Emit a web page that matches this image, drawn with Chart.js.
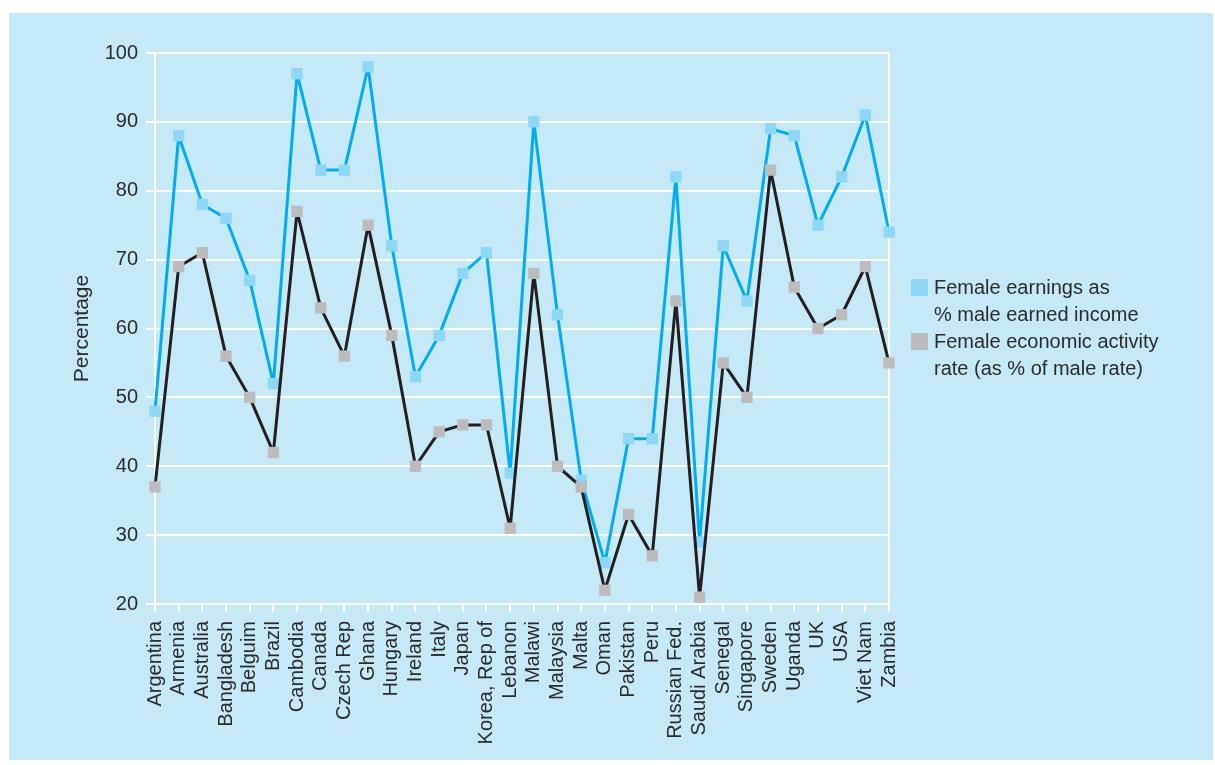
<!DOCTYPE html>
<html>
<head>
<meta charset="utf-8">
<script src="https://cdn.jsdelivr.net/npm/chart.js@4"></script>
<style>
  body { margin: 0; background: #fff; }
  #panel { position: absolute; left: 9px; top: 13px; width: 1204px; height: 747px; background: #c6e9f8; }
  #panel canvas { position: absolute; left: 0; top: 0; }
  #legend-div { position: absolute; left: 902px; top: 261px; font-family: "Liberation Sans", Arial, sans-serif; font-size: 20px; color: #2b2b2b; line-height: 27px; }
  #legend-div ul { list-style: none; margin: 0; padding: 0; }
  #legend-div li { position: relative; padding-left: 23px; }
  #legend-div li span { position: absolute; left: 0; top: 5px; width: 17px; height: 17px; }
</style>
</head>
<body>
<div id="panel">
  <canvas id="lineChartCanvas" width="1204" height="747"></canvas>
  <div id="legend-div"></div>
</div>
<script>
const countries = ['Argentina', 'Armenia', 'Australia', 'Bangladesh', 'Belguim', 'Brazil', 'Cambodia', 'Canada',
  'Czech Rep', 'Ghana', 'Hungary', 'Ireland', 'Italy', 'Japan', 'Korea, Rep of', 'Lebanon', 'Malawi', 'Malaysia',
  'Malta', 'Oman', 'Pakistan', 'Peru', 'Russian Fed.', 'Saudi Arabia', 'Senegal', 'Singapore', 'Sweden', 'Uganda',
  'UK', 'USA', 'Viet Nam', 'Zambia'];

const earnings = [48, 88, 78, 76, 67, 52, 97, 83, 83, 98, 72, 53, 59, 68, 71, 39, 90, 62,
  38, 26, 44, 44, 82, 29, 72, 64, 89, 88, 75, 82, 91, 74];

const activity = [37, 69, 71, 56, 50, 42, 77, 63, 56, 75, 59, 40, 45, 46, 46, 31, 68, 40,
  37, 22, 33, 27, 64, 21, 55, 50, 83, 66, 60, 62, 69, 55];

const yTicks = [20, 30, 40, 50, 60, 70, 80, 90, 100];

const legendItems = [
  { text: 'Female earnings as<br>% male earned income', color: '#8dd8f5' },
  { text: 'Female economic activity<br>rate (as % of male rate)', color: '#bcbcbe' }
];

const textColor = '#2b2b2b';
const fontFamily = '"Liberation Sans", Arial, sans-serif';

window.onload = function () {
  let ctx = document.getElementById('lineChartCanvas').getContext('2d');

  window.lineChart = new Chart(ctx, {
    type: 'line',
    data: {
      labels: countries,
      datasets: [{
        label: 'Female earnings as % male earned income',
        data: earnings,
        borderColor: '#00aeef',
        borderWidth: 3,
        borderJoinStyle: 'bevel',
        backgroundColor: '#8dd8f5',
        pointStyle: 'rect',
        pointRadius: 8,
        pointBorderWidth: 0,
        pointBackgroundColor: '#8dd8f5',
        tension: 0,
        order: 2
      }, {
        label: 'Female economic activity rate (as % of male rate)',
        data: activity,
        borderColor: '#231f20',
        borderWidth: 3,
        borderJoinStyle: 'bevel',
        backgroundColor: '#bcbcbe',
        pointStyle: 'rect',
        pointRadius: 8,
        pointBorderWidth: 0,
        pointBackgroundColor: '#bcbcbe',
        tension: 0,
        order: 1
      }]
    },
    options: {
      responsive: false,
      animation: false,
      layout: { padding: { top: 40, right: 324, left: 61, bottom: 0 } },
      plugins: { legend: { display: false }, tooltip: { enabled: false } },
      scales: {
        x: {
          offset: false,
          afterFit: function (scale) { scale.height = 156; },
          grid: {
            color: function (c) { return (c.index === 0 || c.index === countries.length - 1) ? '#ffffff' : 'rgba(0,0,0,0)'; },
            lineWidth: 2,
            tickColor: '#ffffff',
            tickLength: 8
          },
          border: { color: '#ffffff', width: 2 },
          ticks: {
            autoSkip: false,
            maxRotation: 90,
            minRotation: 90,
            padding: 9,
            color: textColor,
            font: { family: fontFamily, size: 20 }
          }
        },
        y: {
          min: 20,
          max: 100,
          afterFit: function (scale) { scale.width = 85; },
          afterBuildTicks: function (scale) { scale.ticks = yTicks.map(v => ({ value: v })); },
          grid: { color: '#ffffff', lineWidth: 2, tickColor: '#ffffff', tickLength: 9 },
          border: { color: '#ffffff', width: 2 },
          ticks: { padding: 8, color: textColor, font: { family: fontFamily, size: 20 } },
          title: {
            display: true,
            text: 'Percentage',
            color: textColor,
            padding: 0,
            font: { family: fontFamily, size: 21 }
          }
        }
      }
    }
  });

  document.getElementById('legend-div').innerHTML = customLegend();
};

let customLegend = function () {
  let ul = document.createElement('ul');
  legendItems.forEach(function (item) {
    ul.innerHTML += `<li><span style="background-color: ${item.color}"></span>${item.text}</li>`;
  });
  return ul.outerHTML;
};
</script>
</body>
</html>
